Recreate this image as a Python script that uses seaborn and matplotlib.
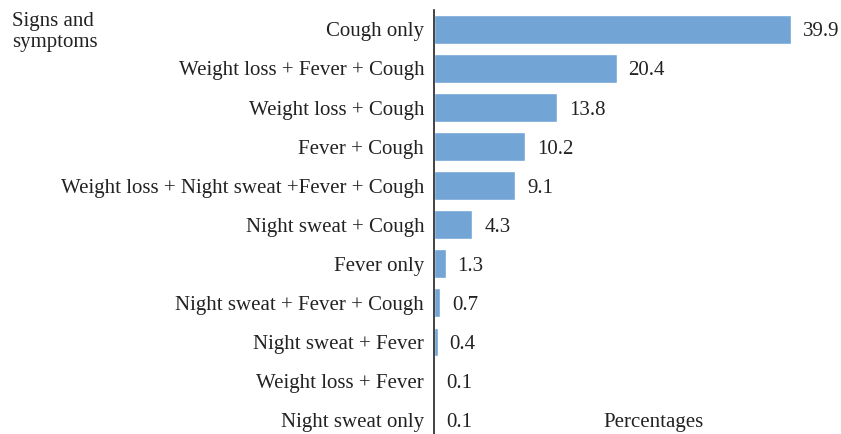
import pandas as pd
import matplotlib.pyplot as plt
import seaborn as sns

sns.set_theme(style='white')
plt.rcParams['font.family'] = ['Liberation Serif', 'DejaVu Serif']

symptoms = ['Cough only',
            'Weight loss + Fever + Cough',
            'Weight loss + Cough',
            'Fever + Cough',
            'Weight loss + Night sweat +Fever + Cough',
            'Night sweat + Cough',
            'Fever only',
            'Night sweat + Fever + Cough',
            'Night sweat + Fever',
            'Weight loss + Fever',
            'Night sweat only']
percentages = [39.9, 20.4, 13.8, 10.2, 9.1, 4.3, 1.3, 0.7, 0.4, 0.1, 0.1]

df = pd.DataFrame({'Symptom': symptoms, 'Pct': percentages})

fig = plt.figure(figsize=(8.41, 4.34), dpi=100)
ax = fig.add_axes([0.516, 0.0, 0.479, 0.977])

sns.barplot(data=df, y='Symptom', x='Pct', orient='h', color='#72A5D5',
            width=0.72, saturation=1, ax=ax)

for i, v in enumerate(percentages):
    ax.annotate(f'{v:.1f}', xy=(v, i), xytext=(8.5, 0), textcoords='offset points',
                va='center_baseline', ha='left', fontsize=15, color='#222222')

ax.set_xlim(0, 45)
ax.set_ylim(10.37, -0.5)
ax.set_xticks([])
ax.set_xlabel('')
ax.set_ylabel('')
ax.tick_params(axis='y', length=0, pad=7, labelsize=15, labelcolor='#222222')
for side in ['top', 'right', 'bottom']:
    ax.spines[side].set_visible(False)
ax.spines['left'].set_color('#222222')
ax.spines['left'].set_linewidth(1.2)

ax.text(24.5, 10, 'Percentages', ha='center', va='center_baseline', fontsize=15, color='#222222')
fig.text(0.014, 0.972, 'Signs and\nsymptoms', ha='left', va='top', fontsize=15,
         color='#222222', linespacing=1.12)

fig.savefig('out.png', dpi=100)
